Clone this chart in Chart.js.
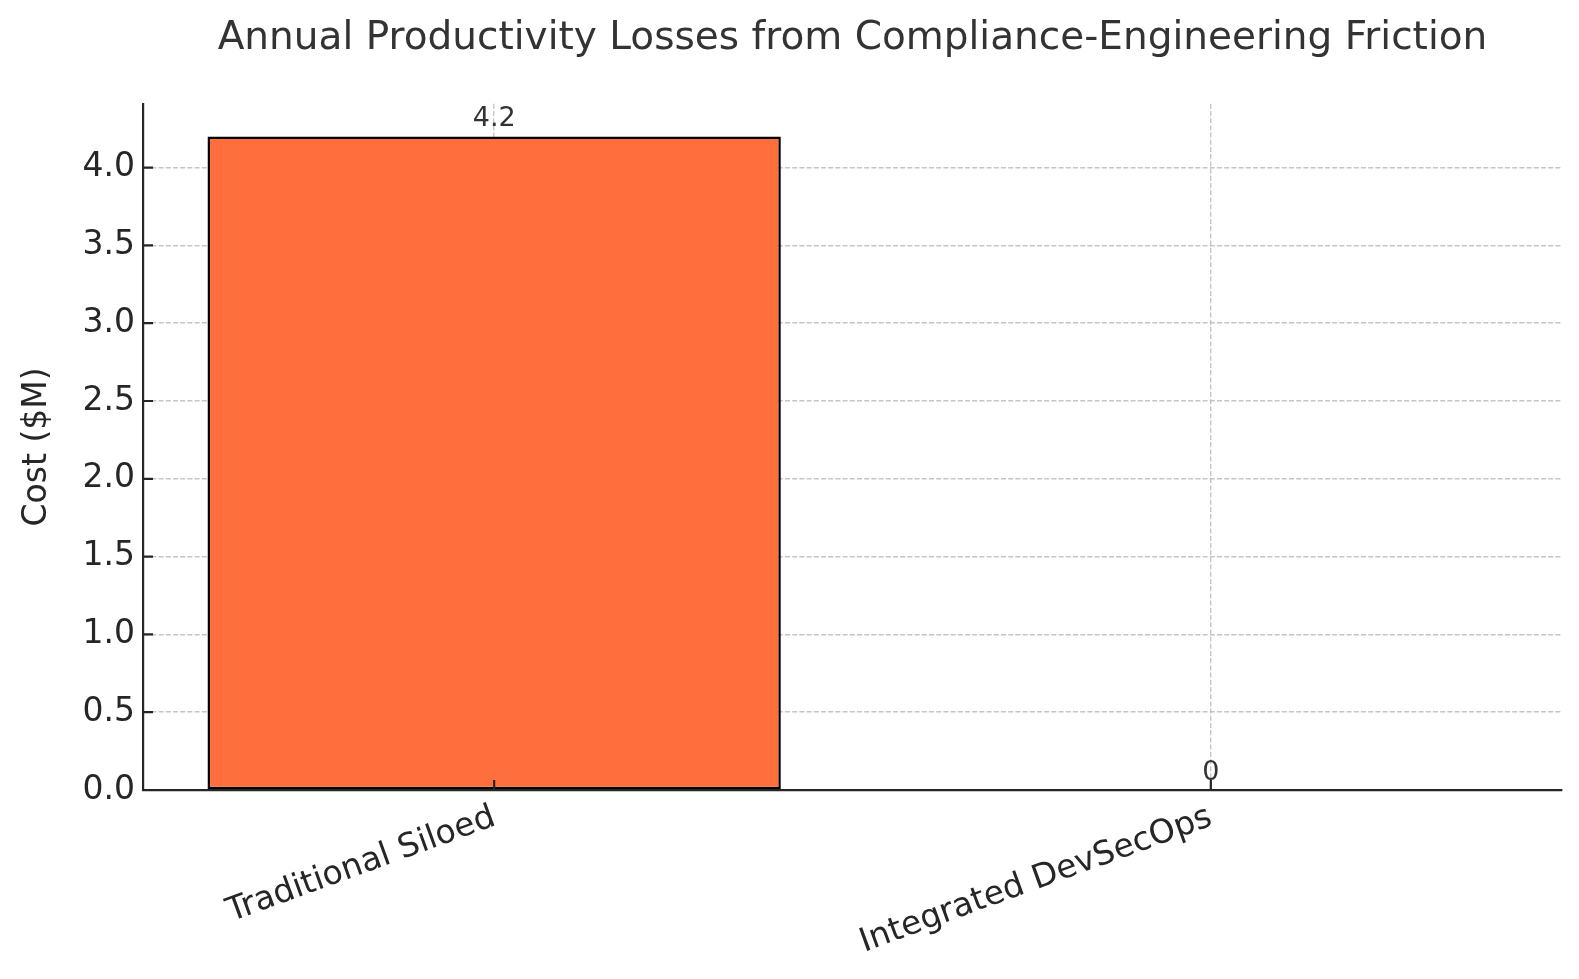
<!DOCTYPE html>
<html><head><meta charset="utf-8">
<script src="https://cdn.jsdelivr.net/npm/chart.js@4"></script>
<style>html,body{margin:0;padding:0;background:#fff;overflow:hidden;}</style>
</head><body>
<canvas id="c" width="1579" height="979"></canvas>
<script>
// ---- data ----
const categories = ['Traditional Siloed', 'Integrated DevSecOps'];
const costValues = [4.2, 0];
const yTickStep = 0.5;
const yMax = 4.41;
const titleText = 'Annual Productivity Losses from Compliance-Engineering Friction';
const yAxisTitle = 'Cost ($M)';

// ---- style ----
const barColor = '#FF6F3D';
const gridColor = 'rgba(176,176,176,0.72)';
const spineColor = '#262626';
const textColor = '#262626';

Chart.defaults.font.family = "'DejaVu Sans', sans-serif";
Chart.defaults.color = textColor;

const inwardTicks = {
  id: 'inwardTicks',
  afterDraw(chart) {
    const ctx = chart.ctx, a = chart.chartArea;
    const xs = chart.scales.x, ys = chart.scales.y;
    ctx.save();
    ctx.strokeStyle = spineColor;
    ctx.lineWidth = 2.2;
    ctx.beginPath();
    ys.ticks.forEach(t => {
      const y = ys.getPixelForValue(t.value);
      ctx.moveTo(a.left, y); ctx.lineTo(a.left + 10, y);
    });
    xs.ticks.forEach(t => {
      const x = xs.getPixelForValue(t.value);
      ctx.moveTo(x, a.bottom); ctx.lineTo(x, a.bottom - 10);
    });
    ctx.stroke();
    ctx.restore();
  }
};

const barLabels = {
  id: 'barLabels',
  afterDraw(chart) {
    const ctx = chart.ctx;
    const meta = chart.getDatasetMeta(0);
    ctx.save();
    ctx.font = "27px 'DejaVu Sans'";
    ctx.fillStyle = '#333333';
    ctx.textAlign = 'center';
    ctx.textBaseline = 'alphabetic';
    meta.data.forEach((bar, i) => {
      ctx.fillText(String(costValues[i]), bar.x, bar.y - 10);
    });
    ctx.restore();
  }
};

new Chart(document.getElementById('c'), {
  type: 'bar',
  data: {
    datasets: [{
      data: categories.map((c, i) => ({ x: i, y: costValues[i] })),
      backgroundColor: barColor,
      borderColor: '#000000',
      borderWidth: 2.5,
      borderSkipped: false,
      barPercentage: 0.8,
      categoryPercentage: 1.0
    }]
  },
  options: {
    responsive: false,
    animation: false,
    devicePixelRatio: 1,
    layout: { padding: { left: 0, right: 17, top: 0, bottom: 0 } },
    plugins: {
      legend: { display: false },
      tooltip: { enabled: false },
      title: {
        display: true,
        fullSize: false,
        text: titleText,
        color: '#333333',
        font: { size: 39, weight: 'normal' },
        padding: { top: 15, bottom: 42 }
      }
    },
    scales: {
      x: {
        type: 'linear',
        min: -0.49,
        max: 1.49,
        offset: false,
        z: 1,
        afterBuildTicks: s => { s.ticks = categories.map((c, i) => ({ value: i })); },
        afterFit: s => { s.height = 189; },
        grid: { color: gridColor, lineWidth: 1.4, drawTicks: false, offset: false },
        border: { color: spineColor, width: 2.2, dash: [5, 2.2] },
        ticks: {
          minRotation: 20, maxRotation: 20, padding: 8, autoSkip: false,
          font: { size: 33 }, color: textColor,
          callback: v => categories[v]
        }
      },
      y: {
        min: 0,
        max: yMax,
        z: 1,
        afterFit: s => { s.width = 143; },
        grid: { color: gridColor, lineWidth: 1.4, drawTicks: false },
        border: { color: spineColor, width: 2.2, dash: [5, 2.2] },
        ticks: {
          stepSize: yTickStep, includeBounds: false, padding: 8,
          font: { size: 33 }, color: textColor,
          callback: v => Number(v).toFixed(1)
        },
        title: {
          display: true, text: yAxisTitle, color: textColor,
          font: { size: 33 }, padding: { top: 18, bottom: 0 }
        }
      }
    }
  },
  plugins: [inwardTicks, barLabels]
});
</script>
</body></html>
